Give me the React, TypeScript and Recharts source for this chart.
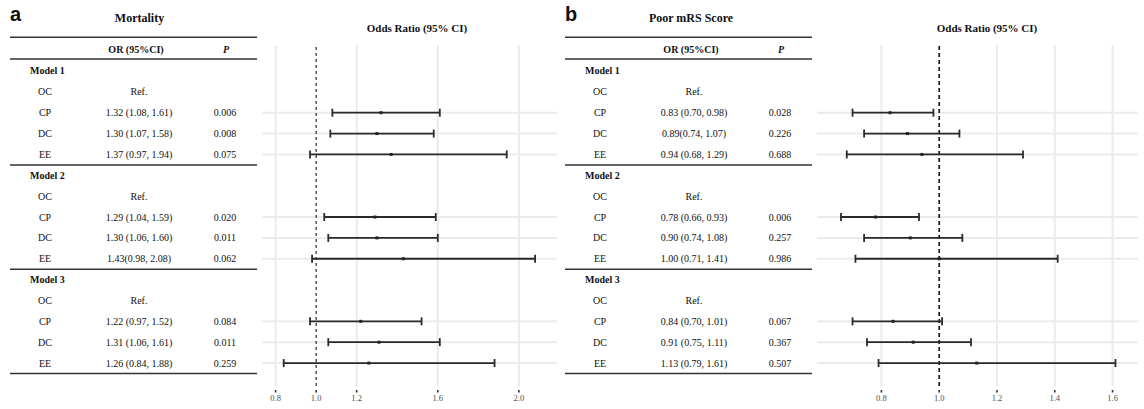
import React from "react";
import { ScatterChart, Scatter, XAxis, YAxis, ErrorBar, ReferenceLine } from "recharts";

const models = ["Model 1", "Model 2", "Model 3"];
const refGroup = "OC";
const groups = ["CP", "DC", "EE"];

// panel a: mortality
const mortalityEst = [1.32, 1.3, 1.37, 1.29, 1.3, 1.43, 1.22, 1.31, 1.26];
const mortalityLow = [1.08, 1.07, 0.97, 1.04, 1.06, 0.98, 0.97, 1.06, 0.84];
const mortalityHigh = [1.61, 1.58, 1.94, 1.59, 1.6, 2.08, 1.52, 1.61, 1.88];
const mortalityText = [
  "1.32 (1.08, 1.61)", "1.30 (1.07, 1.58)", "1.37 (0.97, 1.94)",
  "1.29 (1.04, 1.59)", "1.30 (1.06, 1.60)", "1.43(0.98, 2.08)",
  "1.22 (0.97, 1.52)", "1.31 (1.06, 1.61)", "1.26 (0.84, 1.88)",
];
const mortalityP = ["0.006", "0.008", "0.075", "0.020", "0.011", "0.062", "0.084", "0.011", "0.259"];
const mortalityTicks = [0.8, 1.0, 1.2, 1.6, 2.0];
const mortalityGrid = [0.8, 1.2, 1.6, 2.0];

// panel b: poor mRS score
const mrsEst = [0.83, 0.89, 0.94, 0.78, 0.9, 1.0, 0.84, 0.91, 1.13];
const mrsLow = [0.7, 0.74, 0.68, 0.66, 0.74, 0.71, 0.7, 0.75, 0.79];
const mrsHigh = [0.98, 1.07, 1.29, 0.93, 1.08, 1.41, 1.01, 1.11, 1.61];
const mrsText = [
  "0.83 (0.70, 0.98)", "0.89(0.74, 1.07)", "0.94 (0.68, 1.29)",
  "0.78 (0.66, 0.93)", "0.90 (0.74, 1.08)", "1.00 (0.71, 1.41)",
  "0.84 (0.70, 1.01)", "0.91 (0.75, 1.11)", "1.13 (0.79, 1.61)",
];
const mrsP = ["0.028", "0.226", "0.688", "0.006", "0.257", "0.986", "0.067", "0.367", "0.507"];
const mrsTicks = [0.8, 1.0, 1.2, 1.4, 1.6];
const mrsGrid = [0.8, 1.2, 1.4, 1.6];

const SERIF = '"Liberation Serif", "Times New Roman", serif';
const SANS = '"Liberation Sans", Arial, sans-serif';
const HEADER_ROW = -1.03;

interface Row {
  r: number;
  kind: "header" | "model" | "ref" | "data";
  label: string;
  text?: string;
  p?: string;
  last?: boolean;
}

function buildRows(orText: string[], pText: string[]): Row[] {
  const rows: Row[] = [{ r: HEADER_ROW, kind: "header", label: "" }];
  let r = 0;
  let k = 0;
  models.forEach((m) => {
    rows.push({ r: r++, kind: "model", label: m });
    rows.push({ r: r++, kind: "ref", label: refGroup, text: "Ref." });
    groups.forEach((g, i) => {
      rows.push({ r: r++, kind: "data", label: g, text: orText[k], p: pText[k], last: i === groups.length - 1 });
      k++;
    });
  });
  return rows;
}

function buildPoints(rows: Row[], est: number[], low: number[], high: number[]) {
  return rows
    .filter((d) => d.kind === "data")
    .map((d, i) => ({ x: est[i], y: d.r, err: [est[i] - low[i], high[i] - est[i]] }));
}

const TableTick = (props: any) => {
  const { y, payload, rows } = props;
  const row: Row | undefined = rows.find((d: Row) => d.r === payload.value);
  if (!row) return null;
  const txt = { fontFamily: SERIF, fontSize: 10, fill: "#111" };
  const rule = (yy: number) => <line x1={10} x2={257} y1={yy} y2={yy} stroke="#333" strokeWidth={1.5} />;
  if (row.kind === "header") {
    return (
      <g>
        {rule(y - 12.2)}
        <text x={136} y={y} dy="0.35em" textAnchor="middle" {...txt} fontWeight="bold">OR (95%CI)</text>
        <text x={226} y={y} dy="0.35em" textAnchor="middle" {...txt} fontWeight="bold" fontStyle="italic">P</text>
        {rule(y + 9.5)}
      </g>
    );
  }
  if (row.kind === "model") {
    return (
      <text x={30} y={y} dy="0.35em" textAnchor="start" {...txt} fontWeight="bold">{row.label}</text>
    );
  }
  return (
    <g>
      <text x={45} y={y} dy="0.35em" textAnchor="middle" {...txt}>{row.label}</text>
      <text x={139} y={y} dy="0.35em" textAnchor="middle" {...txt}>{row.text}</text>
      {row.p && <text x={225} y={y} dy="0.35em" textAnchor="middle" {...txt}>{row.p}</text>}
      {row.last && rule(y + 10.5)}
    </g>
  );
};

const AxisTick = (props: any) => {
  const { x, y, payload } = props;
  return (
    <g>
      <rect x={x - 0.8} y={y + 4} width={1.6} height={2.5} fill="#333" />
      <text x={x} y={y + 12} dy="0.35em" textAnchor="middle" fontFamily={SERIF} fontSize={8.5} fill="#4d4d4d">
        {payload.value.toFixed(1)}
      </text>
    </g>
  );
};

interface PanelProps {
  left: number;
  width: number;
  marginRight: number;
  letter: string;
  title: string;
  titleCenter: number;
  oddsCenter: number;
  rows: Row[];
  points: { x: number; y: number; err: number[] }[];
  domain: [number, number];
  ticks: number[];
  grid: number[];
  dashWidth: number;
  dashArray: string;
}

const ForestPanel: React.FC<PanelProps> = ({
  left, width, marginRight, letter, title, titleCenter, oddsCenter,
  rows, points, domain, ticks, grid, dashWidth, dashArray,
}) => (
  <div style={{ position: "absolute", left, top: 0, width, height: 409 }}>
    <ScatterChart width={width} height={409} margin={{ top: 45, right: marginRight, bottom: 0, left: 0 }}>
      <XAxis
        type="number"
        dataKey="x"
        domain={domain}
        allowDataOverflow
        ticks={ticks}
        interval={0}
        axisLine={false}
        tickLine={false}
        tickSize={0}
        tickMargin={0}
        height={23}
        tick={<AxisTick />}
      />
      <YAxis
        type="number"
        dataKey="y"
        domain={[-1.246, 15.1]}
        reversed
        allowDataOverflow
        ticks={rows.map((d) => d.r)}
        interval={0}
        width={262}
        axisLine={false}
        tickLine={false}
        tick={<TableTick rows={rows} />}
      />
      {grid.map((v) => (
        <ReferenceLine key={`v-${v}`} x={v} stroke="#ebebeb" strokeWidth={2} />
      ))}
      {points.map((p) => (
        <ReferenceLine key={`h-${p.y}`} y={p.y} stroke="#ebebeb" strokeWidth={2} />
      ))}
      <ReferenceLine x={1} stroke="#1a1a1a" strokeWidth={dashWidth} strokeDasharray={dashArray} />
      <Scatter
        data={points}
        isAnimationActive={false}
        shape={(p: any) => <rect x={p.cx - 1.5} y={p.cy - 1.5} width={3} height={3} fill="#222" />}
      >
        <ErrorBar dataKey="err" direction="x" width={4} stroke="#2a2a2a" strokeWidth={1.8} isAnimationActive={false} />
      </Scatter>
    </ScatterChart>
    <div style={{ position: "absolute", left: 10, top: 2, fontFamily: SANS, fontWeight: 700, fontSize: 20, lineHeight: "24px", color: "#111" }}>
      {letter}
    </div>
    <div style={{ position: "absolute", left: titleCenter - 100, width: 200, top: 11, textAlign: "center", fontFamily: SERIF, fontWeight: 700, fontSize: 12, lineHeight: "14px", color: "#111" }}>
      {title}
    </div>
    <div style={{ position: "absolute", left: oddsCenter - 100, width: 200, top: 21, textAlign: "center", fontFamily: SERIF, fontWeight: 700, fontSize: 11, lineHeight: "14px", color: "#111" }}>
      Odds Ratio (95% CI)
    </div>
  </div>
);

export default function App() {
  const rowsA = buildRows(mortalityText, mortalityP);
  const rowsB = buildRows(mrsText, mrsP);
  const pointsA = buildPoints(rowsA, mortalityEst, mortalityLow, mortalityHigh);
  const pointsB = buildPoints(rowsB, mrsEst, mrsLow, mrsHigh);
  return (
    <div style={{ position: "absolute", left: 0, top: 0, width: 1144, height: 409, background: "#fff", overflow: "hidden" }}>
      <ForestPanel
        left={0}
        width={560}
        marginRight={3}
        letter="a"
        title="Mortality"
        titleCenter={139.5}
        oddsCenter={417}
        rows={rowsA}
        points={pointsA}
        domain={[0.733, 2.188]}
        ticks={mortalityTicks}
        grid={mortalityGrid}
        dashWidth={1.1}
        dashArray="3 3"
      />
      <ForestPanel
        left={555}
        width={589}
        marginRight={6}
        letter="b"
        title="Poor mRS Score"
        titleCenter={136}
        oddsCenter={432}
        rows={rowsB}
        points={pointsB}
        domain={[0.577, 1.688]}
        ticks={mrsTicks}
        grid={mrsGrid}
        dashWidth={1.7}
        dashArray="4 3"
      />
    </div>
  );
}
